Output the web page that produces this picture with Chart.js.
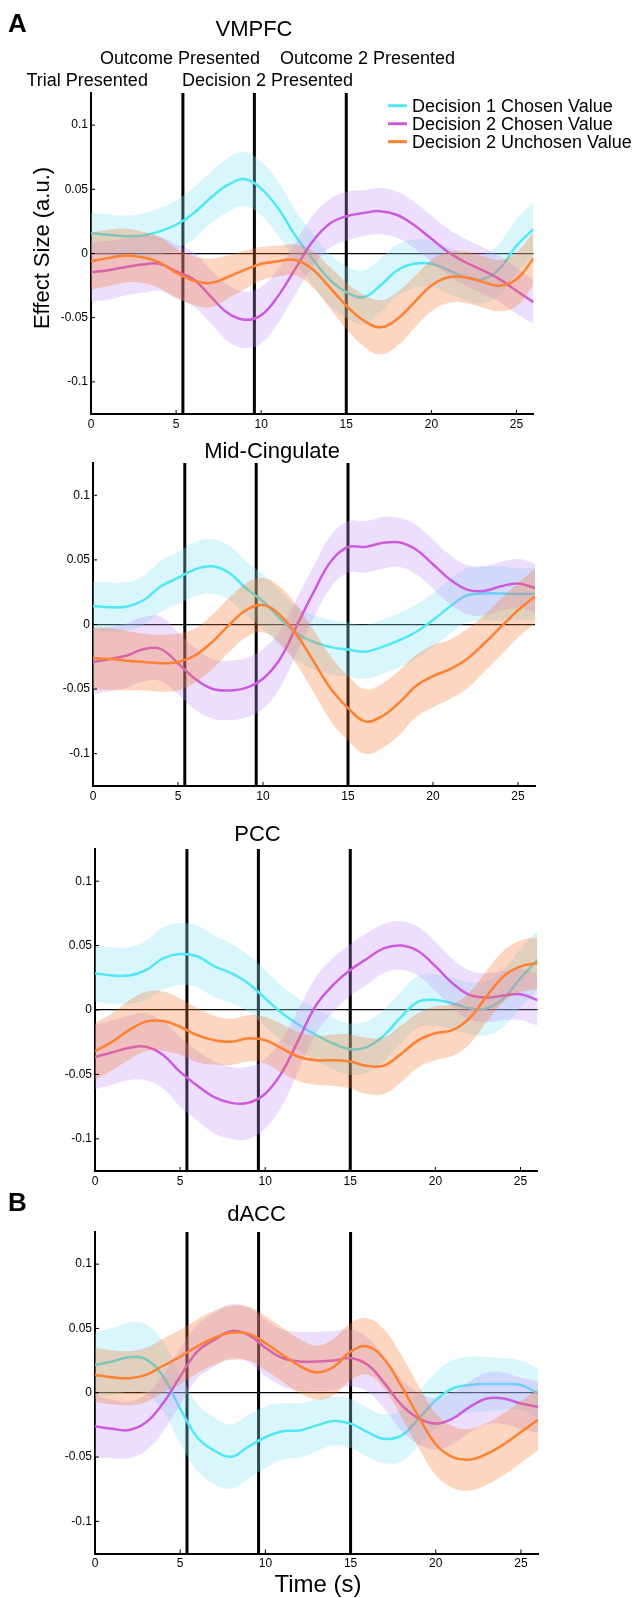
<!DOCTYPE html>
<html>
<head>
<meta charset="utf-8">
<script src="https://cdn.jsdelivr.net/npm/chart.js@4.4.1/dist/chart.umd.min.js"></script>
<style>
  body { margin: 0; background: #fff; }
  #wrap { position: relative; width: 640px; height: 1598px; }
  canvas { position: absolute; left: 0; }
</style>
</head>
<body>
<div id="wrap">
  <canvas id="c1" width="640" height="440" style="top:0px"></canvas>
  <canvas id="c2" width="640" height="370" style="top:440px"></canvas>
  <canvas id="c3" width="640" height="385" style="top:810px"></canvas>
  <canvas id="c4" width="640" height="413" style="top:1185px"></canvas>
</div>
<script>
// time axis (s)
const times = [0,1,2,3,4,5,6,7,8,9,10,11,12,13,14,15,16,17,18,19,20,21,22,23,24,25,26];
const xTicks = [0, 5, 10, 15, 20, 25];
const yTicks = [-0.1, -0.05, 0, 0.05, 0.1];
const eventTimes = [5.4, 9.6, 15.0];
const eventLabels = ['Trial Presented', 'Outcome Presented', 'Decision 2 Presented', 'Outcome 2 Presented'];
const seriesLabels = ['Decision 1 Chosen Value', 'Decision 2 Chosen Value', 'Decision 2 Unchosen Value'];
const regionNames = ['VMPFC', 'Mid-Cingulate', 'PCC', 'dACC'];

// VMPFC
const vmpfcD1Chosen = [0.016,0.0146,0.0135,0.014,0.017,0.0224,0.031,0.043,0.053,0.058,0.0505,0.035,0.014,-0.004,-0.02,-0.030,-0.034,-0.025,-0.013,-0.008,-0.008,-0.013,-0.0185,-0.02,-0.012,0.006,0.019];
const vmpfcD2Chosen = [-0.0146,-0.013,-0.0107,-0.0086,-0.008,-0.014,-0.0198,-0.033,-0.046,-0.0516,-0.048,-0.033,-0.012,0.009,0.023,0.029,0.0315,0.033,0.030,0.022,0.0115,0.001,-0.0068,-0.013,-0.02,-0.029,-0.038];
const vmpfcD2Unchosen = [-0.006,-0.0036,-0.0016,-0.003,-0.0068,-0.015,-0.021,-0.023,-0.0185,-0.013,-0.008,-0.006,-0.005,-0.012,-0.026,-0.0406,-0.052,-0.0575,-0.051,-0.038,-0.025,-0.0185,-0.0185,-0.022,-0.025,-0.02,-0.004];
const vmpfcD1ChosenErr = [0.016,0.016,0.016,0.017,0.018,0.019,0.02,0.02,0.021,0.021,0.021,0.021,0.02,0.02,0.02,0.02,0.021,0.021,0.02,0.019,0.018,0.018,0.018,0.019,0.02,0.021,0.021];
const vmpfcD2ChosenErr = [0.023,0.023,0.022,0.022,0.021,0.021,0.021,0.021,0.022,0.022,0.022,0.021,0.02,0.02,0.019,0.019,0.018,0.018,0.018,0.018,0.018,0.018,0.018,0.018,0.018,0.018,0.017];
const vmpfcD2UnchosenErr = [0.022,0.022,0.021,0.02,0.02,0.019,0.019,0.019,0.017,0.015,0.013,0.012,0.012,0.014,0.016,0.018,0.02,0.021,0.021,0.02,0.02,0.02,0.02,0.02,0.02,0.021,0.021];

// Mid-Cingulate
const midD1Chosen = [0.0144,0.0134,0.0139,0.019,0.0296,0.036,0.0427,0.045,0.040,0.028,0.0178,0.0047,-0.007,-0.0136,-0.0175,-0.0194,-0.021,-0.0175,-0.0123,-0.0058,0.0034,0.0139,0.0225,0.024,0.024,0.0236,0.0236];
const midD2Chosen = [-0.029,-0.0267,-0.024,-0.019,-0.019,-0.030,-0.042,-0.0497,-0.051,-0.049,-0.042,-0.0267,-0.0005,0.0257,0.049,0.060,0.060,0.063,0.0636,0.058,0.0466,0.0348,0.027,0.026,0.0296,0.0317,0.0283];
const midD2Unchosen = [-0.026,-0.0267,-0.028,-0.029,-0.030,-0.029,-0.024,-0.0136,-0.0005,0.011,0.015,0.0073,-0.0084,-0.029,-0.050,-0.0647,-0.075,-0.071,-0.0607,-0.0476,-0.040,-0.0346,-0.0267,-0.0149,-0.0018,0.011,0.0217];
const midD1ChosenErr = [0.019,0.019,0.019,0.019,0.02,0.02,0.021,0.021,0.021,0.021,0.021,0.021,0.021,0.021,0.021,0.021,0.021,0.021,0.021,0.021,0.021,0.021,0.021,0.021,0.021,0.02,0.02];
const midD2ChosenErr = [0.025,0.025,0.025,0.025,0.025,0.024,0.024,0.023,0.023,0.023,0.023,0.022,0.021,0.02,0.02,0.02,0.02,0.02,0.019,0.019,0.019,0.019,0.019,0.019,0.019,0.019,0.019];
const midD2UnchosenErr = [0.024,0.024,0.023,0.022,0.022,0.022,0.021,0.021,0.021,0.021,0.021,0.022,0.023,0.024,0.025,0.025,0.025,0.025,0.025,0.024,0.024,0.023,0.023,0.022,0.022,0.021,0.021];

// PCC
const pccD1Chosen = [0.0286,0.0268,0.0268,0.031,0.040,0.0435,0.0417,0.034,0.0286,0.0208,0.009,-0.0026,-0.0117,-0.0195,-0.026,-0.0305,-0.0286,-0.0195,-0.0052,0.0065,0.0078,0.0052,0.0013,0.0013,0.009,0.0247,0.039];
const pccD2Chosen = [-0.0365,-0.033,-0.0294,-0.0286,-0.035,-0.048,-0.0586,-0.0677,-0.0721,-0.0721,-0.065,-0.048,-0.022,0.0039,0.0195,0.031,0.040,0.048,0.050,0.0456,0.034,0.0208,0.0117,0.0096,0.0112,0.0122,0.0078];
const pccD2Unchosen = [-0.032,-0.0247,-0.0156,-0.009,-0.0086,-0.013,-0.0195,-0.0234,-0.0247,-0.022,-0.0234,-0.030,-0.0365,-0.039,-0.039,-0.040,-0.0435,-0.043,-0.0339,-0.0234,-0.018,-0.0156,-0.0065,0.0104,0.026,0.0339,0.0365];
const pccD1ChosenErr = [0.022,0.022,0.022,0.023,0.024,0.024,0.024,0.024,0.023,0.022,0.022,0.021,0.02,0.02,0.02,0.02,0.02,0.02,0.02,0.02,0.02,0.02,0.02,0.021,0.022,0.023,0.023];
const pccD2ChosenErr = [0.025,0.025,0.025,0.026,0.026,0.027,0.027,0.028,0.028,0.028,0.027,0.026,0.024,0.022,0.021,0.02,0.02,0.019,0.019,0.019,0.019,0.019,0.019,0.019,0.019,0.02,0.02];
const pccD2UnchosenErr = [0.022,0.022,0.023,0.023,0.023,0.022,0.021,0.019,0.018,0.018,0.018,0.019,0.019,0.019,0.02,0.021,0.022,0.022,0.022,0.021,0.021,0.02,0.02,0.02,0.02,0.02,0.02];

// dACC
const daccD1Chosen = [0.0217,0.0243,0.0277,0.026,0.0126,-0.0123,-0.0346,-0.045,-0.0497,-0.042,-0.0346,-0.030,-0.0293,-0.0254,-0.022,-0.024,-0.0306,-0.0359,-0.0332,-0.020,-0.0058,0.0034,0.006,0.0068,0.0068,0.006,-0.0005];
const daccD2Chosen = [-0.026,-0.028,-0.029,-0.023,-0.008,0.0126,0.032,0.041,0.048,0.045,0.035,0.027,0.0243,0.0243,0.025,0.027,0.0217,0.0073,-0.0097,-0.020,-0.024,-0.020,-0.011,-0.0045,-0.0045,-0.0084,-0.011];
const daccD2Unchosen = [0.0139,0.012,0.0113,0.0139,0.021,0.028,0.036,0.0427,0.0466,0.046,0.0387,0.0296,0.021,0.0157,0.020,0.032,0.036,0.0257,0.0047,-0.0188,-0.040,-0.050,-0.052,-0.0476,-0.040,-0.0306,-0.021];
const daccD1ChosenErr = [0.025,0.026,0.027,0.027,0.027,0.027,0.026,0.026,0.025,0.025,0.024,0.022,0.021,0.02,0.019,0.019,0.019,0.019,0.02,0.021,0.022,0.022,0.022,0.021,0.02,0.019,0.019];
const daccD2ChosenErr = [0.024,0.023,0.022,0.022,0.022,0.022,0.021,0.021,0.021,0.021,0.022,0.022,0.023,0.023,0.023,0.022,0.021,0.02,0.02,0.02,0.02,0.02,0.02,0.02,0.02,0.02,0.02];
const daccD2UnchosenErr = [0.021,0.021,0.021,0.021,0.021,0.021,0.021,0.021,0.021,0.021,0.021,0.021,0.021,0.021,0.022,0.022,0.022,0.023,0.024,0.024,0.024,0.024,0.024,0.024,0.024,0.024,0.024];

const lineColors = ['rgb(80,232,245)', 'rgb(204,92,222)', 'rgb(255,128,48)'];
const bandColors = ['rgba(140,226,248,0.32)', 'rgba(192,145,245,0.3)', 'rgba(245,118,45,0.3)'];
const FONT = "'Liberation Sans', Arial, Helvetica, sans-serif";

// page-pixel layout of each panel
const panels = [
  { id: 'c1', top: 0, left: 91, right: 533.5, areaTop: 93, areaBottom: 414,
    means: [vmpfcD1Chosen, vmpfcD2Chosen, vmpfcD2Unchosen],
    errs: [vmpfcD1ChosenErr, vmpfcD2ChosenErr, vmpfcD2UnchosenErr],
    texts: [
      { s: 'A', x: 8, y: 32, size: 26, bold: true, align: 'left' },
      { s: regionNames[0], x: 254, y: 36, size: 22, align: 'center' },
      { s: eventLabels[1], x: 100, y: 64, size: 18, align: 'left' },
      { s: eventLabels[3], x: 280, y: 64, size: 18, align: 'left' },
      { s: eventLabels[0], x: 26.5, y: 86, size: 18, align: 'left' },
      { s: eventLabels[2], x: 182, y: 86, size: 18, align: 'left' }
    ], legend: true, yTitle: true },
  { id: 'c2', top: 440, left: 93, right: 535, areaTop: 463, areaBottom: 786,
    means: [midD1Chosen, midD2Chosen, midD2Unchosen],
    errs: [midD1ChosenErr, midD2ChosenErr, midD2UnchosenErr],
    texts: [{ s: regionNames[1], x: 272, y: 458, size: 22, align: 'center' }] },
  { id: 'c3', top: 810, left: 95, right: 537.5, areaTop: 849, areaBottom: 1171,
    means: [pccD1Chosen, pccD2Chosen, pccD2Unchosen],
    errs: [pccD1ChosenErr, pccD2ChosenErr, pccD2UnchosenErr],
    texts: [{ s: regionNames[2], x: 257.5, y: 840.5, size: 22, align: 'center' }] },
  { id: 'c4', top: 1185, left: 95, right: 538, areaTop: 1232, areaBottom: 1553.5,
    means: [daccD1Chosen, daccD2Chosen, daccD2Unchosen],
    errs: [daccD1ChosenErr, daccD2ChosenErr, daccD2UnchosenErr],
    texts: [
      { s: 'B', x: 8, y: 1211, size: 26, bold: true, align: 'left' },
      { s: regionNames[3], x: 256.5, y: 1221, size: 22, align: 'center' },
      { s: 'Time (s)', x: 318, y: 1592, size: 24, align: 'center' }
    ] }
];

function buildDatasets(means, errs) {
  const ds = [];
  means.forEach((m, s) => {
    const base = (2 - s) * 3; // cyan drawn first, orange last
    ds.push({ data: times.map((t, i) => ({ x: t, y: m[i] + errs[s][i] })), borderColor: 'rgba(0,0,0,0)',
      borderWidth: 0, pointRadius: 0, fill: false, tension: 0.4, order: base + 2 });
    ds.push({ data: times.map((t, i) => ({ x: t, y: m[i] - errs[s][i] })), borderColor: 'rgba(0,0,0,0)',
      borderWidth: 0, pointRadius: 0, fill: '-1', backgroundColor: bandColors[s], tension: 0.4, order: base + 1 });
    ds.push({ label: seriesLabels[s], data: times.map((t, i) => ({ x: t, y: m[i] })), borderColor: lineColors[s],
      borderWidth: 2.5, pointRadius: 0, fill: false, tension: 0.4, order: base });
  });
  return ds;
}

function decor(p) {
  return {
    id: 'decor',
    beforeDatasetsDraw(chart) {
      const { ctx, chartArea: a } = chart;
      const x = chart.scales.x;
      ctx.save();
      ctx.strokeStyle = '#000';
      ctx.lineWidth = 3;
      eventTimes.forEach(t => {
        const px = x.getPixelForValue(t);
        ctx.beginPath(); ctx.moveTo(px, a.top); ctx.lineTo(px, a.bottom); ctx.stroke();
      });
      ctx.restore();
    },
    afterDraw(chart) {
      const { ctx, chartArea: a } = chart;
      const x = chart.scales.x, y = chart.scales.y;
      ctx.save();
      // small inward tick marks
      ctx.strokeStyle = '#000';
      ctx.lineWidth = 1;
      yTicks.forEach(v => {
        const py = y.getPixelForValue(v);
        ctx.beginPath(); ctx.moveTo(a.left, py); ctx.lineTo(a.left + 4, py); ctx.stroke();
      });
      xTicks.forEach(v => {
        const px = x.getPixelForValue(v);
        ctx.beginPath(); ctx.moveTo(px, a.bottom); ctx.lineTo(px, a.bottom - 4); ctx.stroke();
      });

      ctx.fillStyle = '#000';
      ctx.textBaseline = 'alphabetic';
      p.texts.forEach(t => {
        ctx.font = (t.bold ? 'bold ' : '') + t.size + 'px ' + FONT;
        ctx.textAlign = t.align;
        ctx.fillText(t.s, t.x, t.y - p.top);
      });

      if (p.yTitle) {
        ctx.save();
        ctx.translate(43, 248 - p.top);
        ctx.rotate(-Math.PI / 2);
        ctx.font = '22px ' + FONT;
        ctx.textAlign = 'center';
        ctx.textBaseline = 'middle';
        ctx.fillText('Effect Size (a.u.)', 0, 0);
        ctx.restore();
      }

      if (p.legend) {
        ctx.font = '18px ' + FONT;
        ctx.textAlign = 'left';
        ctx.textBaseline = 'middle';
        seriesLabels.forEach((lab, i) => {
          const ly = 105.7 + i * 18 - p.top;
          ctx.strokeStyle = lineColors[i];
          ctx.lineWidth = 3;
          ctx.beginPath(); ctx.moveTo(388, ly); ctx.lineTo(407, ly); ctx.stroke();
          ctx.fillStyle = '#000';
          ctx.fillText(lab, 412, ly + 1);
        });
      }
      ctx.restore();
    }
  };
}

panels.forEach(p => {
  const canvas = document.getElementById(p.id);
  const h = canvas.height;
  new Chart(canvas.getContext('2d'), {
    type: 'line',
    data: { datasets: buildDatasets(p.means, p.errs) },
    options: {
      responsive: false,
      animation: false,
      devicePixelRatio: 1,
      layout: {
        padding: {
          left: p.left - 60,
          right: 640 - p.right,
          top: p.areaTop - p.top,
          bottom: h - (p.areaBottom - p.top) - 22
        }
      },
      plugins: { legend: { display: false }, tooltip: { enabled: false } },
      scales: {
        x: {
          type: 'linear', min: 0, max: 26,
          afterBuildTicks: axis => { axis.ticks = xTicks.map(v => ({ value: v })); },
          afterFit: axis => { axis.height = 22; },
          grid: { display: false, drawTicks: false },
          border: { color: '#000', width: 2 },
          ticks: { color: '#000', font: { family: FONT, size: 12 }, padding: 3, maxRotation: 0 }
        },
        y: {
          type: 'linear', min: -0.125, max: 0.125,
          afterBuildTicks: axis => { axis.ticks = yTicks.map(v => ({ value: v })); },
          afterFit: axis => { axis.width = 60; },
          grid: {
            drawTicks: false, lineWidth: 1.2,
            color: c => (c.tick && c.tick.value === 0) ? '#000' : 'rgba(0,0,0,0)'
          },
          border: { color: '#000', width: 2 },
          ticks: { color: '#000', font: { family: FONT, size: 12 }, padding: 3, callback: v => String(v) }
        }
      }
    },
    plugins: [decor(p)]
  });
});
</script>
</body>
</html>
